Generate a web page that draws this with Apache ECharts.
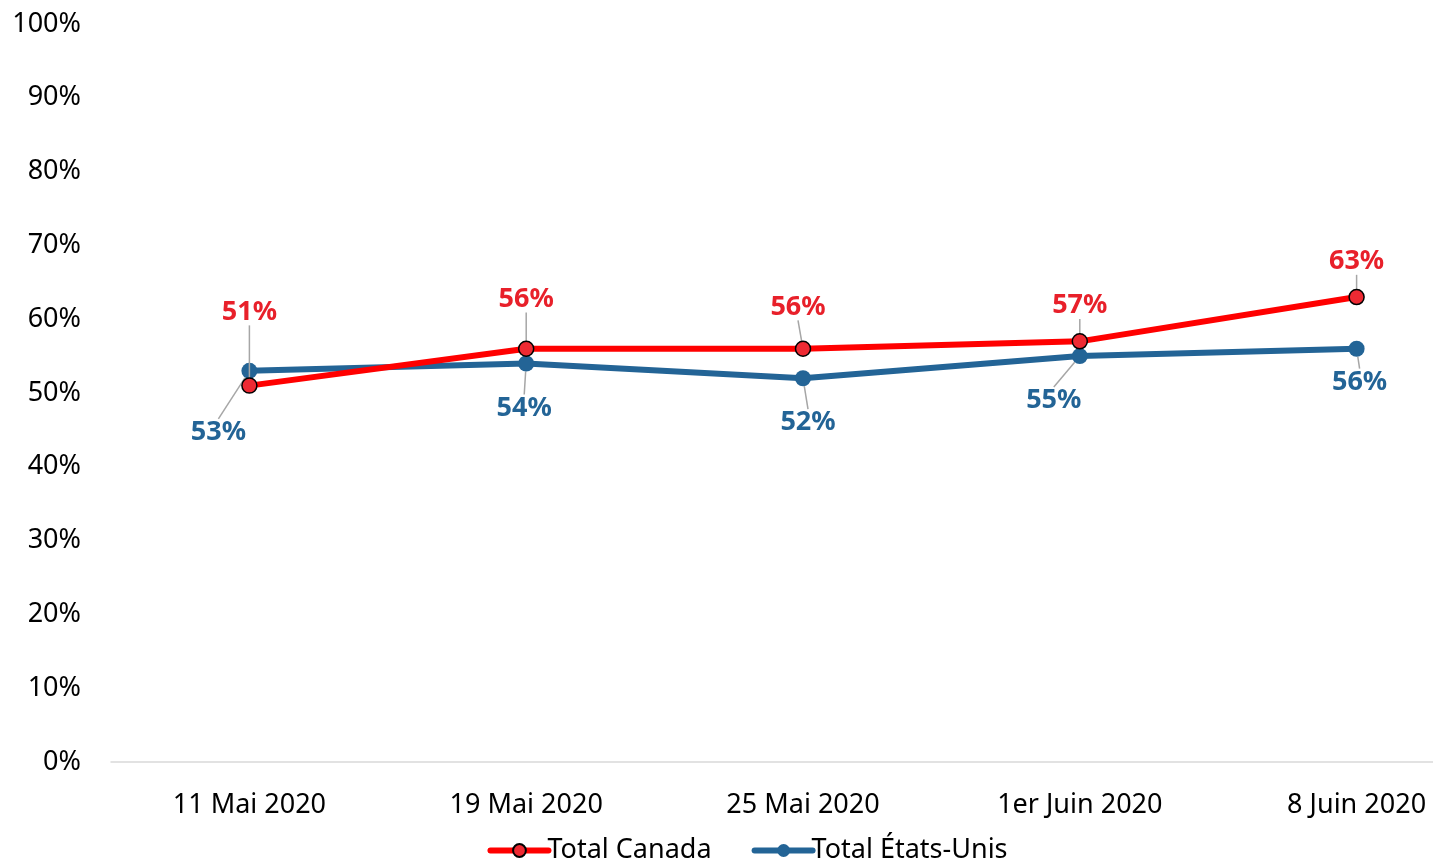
<!DOCTYPE html>
<html>
<head>
<meta charset="utf-8">
<script src="https://cdn.jsdelivr.net/npm/echarts@6/dist/echarts.min.js"></script>
<style>
  html, body { margin: 0; padding: 0; background: #fff; overflow: hidden; }
  /* plot runs past the right edge, the source picture was cropped there */
  #chart { width: 1495px; height: 862px; }
</style>
</head>
<body>
<div id="chart"></div>
<script>
const categories = ['11 Mai 2020', '19 Mai 2020', '25 Mai 2020', '1er Juin 2020', '8 Juin 2020']
const canada = [51, 56, 56, 57, 63]
const etatsUnis = [53, 54, 52, 55, 56]
const yTicks = [0, 10, 20, 30, 40, 50, 60, 70, 80, 90, 100]

// label nudges (px) like the Excel callouts
const canadaShift = [[0, -47], [0, -23], [-5, -15], [0, -9], [0, -9]]
const usShift = [[-31, 35], [-2, 18], [5, 18], [-26, 18], [3, 7]]

const font = 'Noto Sans'
const myChart = echarts.init(document.getElementById('chart'))

myChart.setOption({
  animation: false,
  textStyle: { fontFamily: font },
  grid: { left: 111, right: 0, top: 24, bottom: 100 },
  legend: {
    top: 832,
    left: 'center',
    itemWidth: 58,
    itemHeight: 16,
    itemGap: 40,
    lineStyle: { width: 6, cap: 'round' },
    textStyle: { fontSize: 27, color: '#000', fontFamily: font, padding: [0, 0, 0, -6] },
    data: ['Total Canada', 'Total États-Unis'],
  },
  xAxis: {
    type: 'category',
    data: categories,
    axisTick: { show: false },
    axisLine: { lineStyle: { color: '#D9D9D9', width: 1.5 } },
    axisLabel: { color: '#000', fontSize: 27, margin: 30 },
  },
  yAxis: {
    type: 'value',
    min: 0,
    max: 100,
    interval: 10,
    splitLine: { show: false },
    axisLabel: {
      color: '#000',
      fontSize: 27,
      margin: 30,
      formatter: (v) => (yTicks.includes(v) ? v + '%' : ''),
    },
  },
  series: [
    {
      name: 'Total Canada',
      type: 'line',
      data: canada,
      symbol: 'circle',
      symbolSize: 15,
      z: 3,
      lineStyle: { color: '#FF0000', width: 6 },
      itemStyle: { color: '#EE2A33', borderColor: '#000', borderWidth: 1.5 },
      label: {
        show: true,
        position: 'top',
        color: '#E8202A',
        fontWeight: 'bold',
        fontSize: 27,
        formatter: '{c}%',
      },
      labelLine: { show: true, lineStyle: { color: '#A6A6A6', width: 1.5 } },
      labelLayout: (p) => ({ dx: canadaShift[p.dataIndex][0], dy: canadaShift[p.dataIndex][1] }),
    },
    {
      name: 'Total États-Unis',
      type: 'line',
      data: etatsUnis,
      symbol: 'circle',
      symbolSize: 16,
      z: 2,
      lineStyle: { color: '#236496', width: 6 },
      itemStyle: { color: '#236496' },
      label: {
        show: true,
        position: 'bottom',
        color: '#236496',
        fontWeight: 'bold',
        fontSize: 27,
        formatter: '{c}%',
      },
      labelLine: { show: true, lineStyle: { color: '#A6A6A6', width: 1.5 } },
      labelLayout: (p) => ({ dx: usShift[p.dataIndex][0], dy: usShift[p.dataIndex][1] }),
    },
  ],
})
</script>
</body>
</html>
